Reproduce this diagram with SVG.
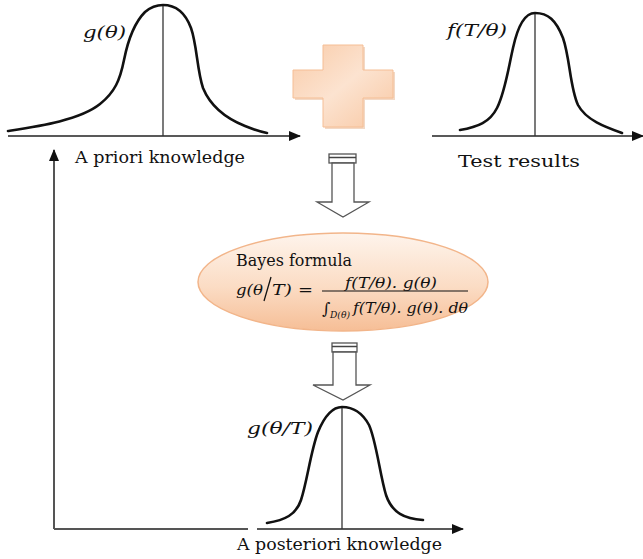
<svg xmlns="http://www.w3.org/2000/svg" width="643" height="559" viewBox="0 0 643 559">
<style>
.axis{stroke:#222;stroke-width:1.6;fill:none}
.vline{stroke:#333;stroke-width:1.3;fill:none}
.curve{stroke:#111;stroke-width:2.6;fill:none;stroke-linecap:round}
.lbl{font-family:"DejaVu Serif","Liberation Serif",serif;font-size:17px;fill:#111}
.math{font-family:"DejaVu Serif","Liberation Serif",serif;font-style:italic;font-size:16px;fill:#111}
.hollow{fill:#fff;stroke:#555;stroke-width:1.3}
</style>
<defs>
<marker id="ah" viewBox="0 0 12 10" refX="11" refY="5" markerWidth="12" markerHeight="10" markerUnits="userSpaceOnUse" orient="auto">
<path d="M0,0 L12,5 L0,10 Z" fill="#111"/>
</marker>
<linearGradient id="crossG" x1="0" y1="0" x2="1" y2="1">
<stop offset="0" stop-color="#F9CBA8"/>
<stop offset="0.5" stop-color="#FCE3D0"/>
<stop offset="1" stop-color="#F8C7A2"/>
</linearGradient>
<linearGradient id="ellG" x1="0" y1="0" x2="0" y2="1">
<stop offset="0" stop-color="#FEF4EC"/>
<stop offset="0.55" stop-color="#FBDCC4"/>
<stop offset="1" stop-color="#F6BE96"/>
</linearGradient>
</defs>

<g id="connectors">
<path class="vline" d="M54,529 L54,150" marker-end="url(#ah)" style="stroke:#555;stroke-width:2"/>
<path class="vline" d="M54,529 L248,529" style="stroke:#555;stroke-width:2"/>
</g>

<g id="prior">
<path class="axis" d="M8,136 L300,136" marker-end="url(#ah)"/>
<line class="vline" x1="163" y1="6" x2="163" y2="136"/>
<path class="curve" d="M8,131 C40,126 80,120 100,104 C115,92 120,80 124,60 C128,40 135,22 145,12 C152,6 158,5 163,5 C175,5 185,12 191,28 C197,45 197,70 203,88 C210,105 225,118 245,126 C255,130 262,132 267,133"/>
<text class="math" x="83" y="38" textLength="43" lengthAdjust="spacingAndGlyphs">g(θ)</text>
<text class="lbl" x="75" y="163" textLength="170" lengthAdjust="spacingAndGlyphs">A priori knowledge</text>
</g>

<g id="plus">
<polygon points="325,47 365,47 365,72 395,72 395,100 365,100 365,129 325,129 325,100 295,100 295,72 325,72" fill="#E9B996" opacity="0.55"/>
<polygon points="323,45 363,45 363,70 393,70 393,98 363,98 363,127 323,127 323,98 293,98 293,70 323,70" fill="url(#crossG)" stroke="#F5BE95" stroke-width="1"/>
</g>

<g id="test">
<path class="axis" d="M432,136 L643,136" marker-end="url(#ah)"/>
<line class="vline" x1="535" y1="13" x2="535" y2="136"/>
<path class="curve" d="M460,130 C478,127 490,122 497,108 C505,92 508,70 513,48 C518,25 525,13 535,13 C548,13 556,20 563,38 C570,58 570,88 578,105 C586,120 605,127 622,133"/>
<text class="math" x="447" y="36" textLength="60" lengthAdjust="spacingAndGlyphs">f(T/θ)</text>
<text class="lbl" x="458" y="167" textLength="122" lengthAdjust="spacingAndGlyphs">Test results</text>
</g>

<g id="arrow1">
<rect x="329" y="154" width="27" height="9" class="hollow"/>
<line x1="329" y1="157.5" x2="356" y2="157.5" stroke="#444" stroke-width="1.5"/>
<polygon class="hollow" points="332,163 354,163 354,202 369,202 343,217 317,202 332,202"/>
</g>

<g id="bayes">
<ellipse cx="343" cy="282" rx="145" ry="49" fill="url(#ellG)" stroke="#F2B58A" stroke-width="1.5"/>
<text class="lbl" x="236" y="266" textLength="116" lengthAdjust="spacingAndGlyphs" style="font-size:16px">Bayes formula</text>
<text class="math" x="236" y="295" textLength="27" lengthAdjust="spacingAndGlyphs" style="font-size:15px">g(θ</text>
<line x1="264" y1="301" x2="271" y2="277" stroke="#111" stroke-width="1.3"/>
<text class="math" x="272" y="295" textLength="20" lengthAdjust="spacingAndGlyphs" style="font-size:15px">T)</text>
<text class="math" x="298" y="295" textLength="15" lengthAdjust="spacingAndGlyphs" style="font-style:normal;font-size:16px">=</text>
<text class="math" x="345" y="288" textLength="92" lengthAdjust="spacingAndGlyphs" style="font-size:14px">f(T/θ). g(θ)</text>
<line x1="322" y1="291" x2="468" y2="291" stroke="#111" stroke-width="1.1"/>
<text class="math" x="322" y="314" style="font-size:16px;font-style:normal">∫</text>
<text class="math" x="330" y="318" textLength="20" lengthAdjust="spacingAndGlyphs" style="font-size:9px">D(θ)</text>
<text class="math" x="353" y="313" textLength="115" lengthAdjust="spacingAndGlyphs" style="font-size:14px">f(T/θ). g(θ). dθ</text>
</g>

<g id="arrow2">
<rect x="332" y="343" width="25" height="9" class="hollow"/>
<line x1="332" y1="346.5" x2="357" y2="346.5" stroke="#444" stroke-width="1.5"/>
<polygon class="hollow" points="333,352 356,352 356,385 370,385 343,400 313,385 333,385"/>
</g>

<g id="posterior">
<path class="axis" d="M257,529 L463,529" marker-end="url(#ah)"/>
<line class="vline" x1="342" y1="407" x2="342" y2="529"/>
<path class="curve" d="M267,523 C285,520 296,515 301,500 C307,482 311,450 318,432 C325,415 333,407 342,407 C352,407 362,412 369,425 C376,440 380,475 386,495 C392,513 405,519 423,520"/>
<text class="math" x="247" y="434" textLength="66" lengthAdjust="spacingAndGlyphs">g(θ/T)</text>
<text class="lbl" x="237" y="550" textLength="205" lengthAdjust="spacingAndGlyphs">A posteriori knowledge</text>
</g>
</svg>
